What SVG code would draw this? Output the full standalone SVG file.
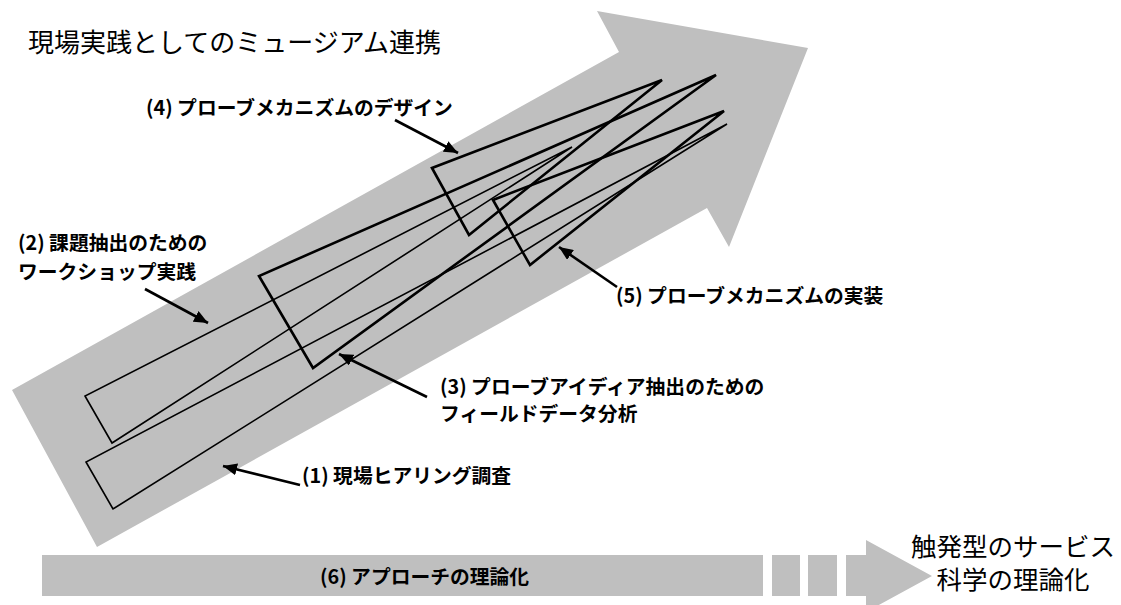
<svg xmlns="http://www.w3.org/2000/svg" width="1121" height="605" viewBox="0 0 1121 605">
<style>
.bg{fill:#bfbfbf;stroke:none}
.thin{fill:none;stroke:#000;stroke-width:1.6;stroke-linejoin:miter}
.thick{fill:none;stroke:#000;stroke-width:2.6;stroke-linejoin:miter}
.ptr{fill:none;stroke:#000;stroke-width:2.6;marker-end:url(#ah)}
.lbl{font-family:"Noto Sans CJK JP","Noto Sans CJK SC",sans-serif;font-weight:700;font-size:19.8px;fill:#000}
.big{font-family:"Noto Sans CJK JP","Noto Sans CJK SC",sans-serif;font-weight:400;font-size:25.5px;fill:#000}
</style>
<defs>
<marker id="ah" markerUnits="userSpaceOnUse" markerWidth="16" markerHeight="12" refX="14" refY="6" orient="auto">
<path d="M0,0 L14,6 L0,12 Z" fill="#000"/>
</marker>
</defs>
<g id="main-arrow">
<polygon class="bg" points="12,390 619,52 597,11 808,48 729,247 707,208 97,547"/>
</g>
<g id="theory-arrow">
<rect class="bg" x="42" y="555" width="721" height="41"/>
<rect class="bg" x="772" y="555" width="28" height="41"/>
<rect class="bg" x="808" y="555" width="29" height="41"/>
<polygon class="bg" points="846,555 866,555 866,540 932,576 866,612 866,596 846,596"/>
</g>
<g id="phase1"><polygon class="thin" points="86,462 113,509 727,124"/></g>
<g id="phase2"><polygon class="thin" points="85,396 112,443 572,147"/></g>
<g id="phase3"><polygon class="thick" points="259,276 313,368 716,75"/></g>
<g id="phase4"><polygon class="thick" points="432,168 469,235 662,80"/></g>
<g id="phase5"><polygon class="thick" points="493,200 530,265 724,111"/></g>
<g id="connectors">
<line class="ptr" x1="395" y1="120" x2="458" y2="153"/>
<line class="ptr" x1="145" y1="289" x2="208" y2="323"/>
<line class="ptr" x1="427" y1="397" x2="339" y2="354"/>
<line class="ptr" x1="617" y1="287" x2="559" y2="247"/>
<line class="ptr" x1="300" y1="485" x2="223" y2="466"/>
</g>
<g id="title"><text class="big" x="28" y="52" style="font-size:26px">現場実践としてのミュージアム連携</text></g>
<g id="label4"><text class="lbl" x="146" y="115">(4) プローブメカニズムのデザイン</text></g>
<g id="label2"><text class="lbl" x="18" y="250">(2) 課題抽出のための</text><text class="lbl" x="18" y="279">ワークショップ実践</text></g>
<g id="label5"><text class="lbl" x="616" y="303">(5) プローブメカニズムの実装</text></g>
<g id="label3"><text class="lbl" x="440" y="394">(3) プローブアイディア抽出のための</text><text class="lbl" x="440" y="421">フィールドデータ分析</text></g>
<g id="label1"><text class="lbl" x="302" y="483">(1) 現場ヒアリング調査</text></g>
<g id="label6"><text class="lbl" x="320" y="584">(6) アプローチの理論化</text></g>
<g id="goal"><text class="big" x="1013" y="556" text-anchor="middle">触発型のサービス</text><text class="big" x="1013" y="589" text-anchor="middle">科学の理論化</text></g>
</svg>
